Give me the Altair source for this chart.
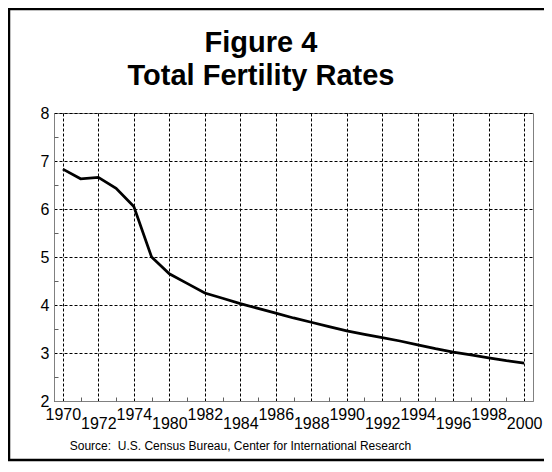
import altair as alt
import pandas as pd

years = [1970, 1971, 1972, 1973, 1974, 1975, 1980, 1981, 1982, 1983, 1984, 1985,
         1986, 1987, 1988, 1989, 1990, 1991, 1992, 1993, 1994, 1995, 1996, 1997,
         1998, 1999, 2000]
tfr = [6.83, 6.63, 6.66, 6.43, 6.05, 5.00, 4.65, 4.45, 4.25, 4.14, 4.03, 3.93,
       3.83, 3.73, 3.64, 3.55, 3.46, 3.39, 3.32, 3.25, 3.17, 3.09, 3.02, 2.96,
       2.90, 2.84, 2.79]
major_years = [1970, 1972, 1974, 1980, 1982, 1984, 1986, 1988, 1990, 1992, 1994,
               1996, 1998, 2000]
minor_years = [1971, 1973, 1975, 1981, 1983, 1985, 1987, 1989, 1991, 1993, 1995,
               1997, 1999]
lower_label_years = [1972, 1980, 1984, 1988, 1992, 1996, 2000]
y_major = [2, 3, 4, 5, 6, 7, 8]
y_minor = [2.5, 3.5, 4.5, 5.5, 6.5, 7.5]
title_lines = ["Figure 4", "Total Fertility Rates"]
source = "Source:\u00a0 U.S. Census Bureau, Center for International Research"

df = pd.DataFrame({"year": years, "tfr": tfr})
W, H = 479, 288
FONT = "Liberation Sans"

xscale = alt.Scale(type="point", padding=0.5)
yscale = alt.Scale(domain=[2, 8], nice=False, zero=False)

test = "indexof([" + ",".join(str(v) for v in lower_label_years) + "], datum.value) >= 0"

base_x = alt.Axis(
    values=major_years, ticks=False, tickSize=0, labelAngle=0, labelFont=FONT,
    labelFontSize=16, labelColor="black",
    labelPadding={"condition": {"test": test, "value": 14.5}, "value": 5},
    labelOverlap=False, domainColor="#808080", grid=True, gridColor="black",
    gridDash=[3, 2], gridWidth=1, gridOpacity=1, title=source, titleFont=FONT,
    titleFontSize=12, titleFontWeight="normal", titleColor="black",
    titleX=186, titleY=48, titleAlign="center", titleBaseline="alphabetic",
)
base_y = alt.Axis(
    values=y_major, ticks=False, tickSize=0, labelFont=FONT, labelFontSize=16,
    labelColor="black", labelPadding=5, domainColor="#808080", grid=True,
    gridColor="black", gridDash=[3, 2], gridWidth=1, gridOpacity=1, title=None,
    format="d",
)
minor_x = alt.Axis(
    orient="top", offset=-H, values=minor_years, labels=False, domain=False,
    grid=False, ticks=True, tickSize=4, tickColor="#606060", title=None,
)
minor_y = alt.Axis(
    orient="right", offset=-W, values=y_minor, labels=False, domain=False,
    grid=False, ticks=True, tickSize=4, tickColor="#606060", title=None,
)

one = pd.DataFrame({"k": [0]})
frame_style = dict(color="black", strokeWidth=2.5)
frame_left = alt.Chart(one).mark_rule(**frame_style).encode(
    x=alt.value(-45), y=alt.value(-104), y2=alt.value(347)
)
frame_top = alt.Chart(one).mark_rule(**frame_style).encode(
    x=alt.value(-46), x2=alt.value(600), y=alt.value(-104)
)
frame_bottom = alt.Chart(one).mark_rule(**frame_style).encode(
    x=alt.value(-46), x2=alt.value(600), y=alt.value(347)
)

hidden = alt.Chart(df).mark_line(strokeOpacity=0).encode(
    x=alt.X("year:O", scale=xscale, axis=base_x),
    y=alt.Y("tfr:Q", scale=yscale, axis=base_y),
)

line = alt.Chart(df).mark_line(color="black", strokeWidth=2.75).encode(
    x=alt.X("year:O", scale=xscale, axis=minor_x),
    y=alt.Y("tfr:Q", scale=yscale, axis=minor_y),
)

chart = alt.layer(frame_left, frame_top, frame_bottom, hidden, line).resolve_axis(
    x="independent", y="independent"
).properties(
    width=W, height=H,
    title=alt.TitleParams(
        text=title_lines, font=FONT, fontSize=29, fontWeight="bold",
        color="black", anchor="middle", dx=-32.5, dy=83, lineHeight=33, offset=0,
    ),
    autosize=alt.AutoSizeParams(type="none"),
    padding={"left": 46, "top": 105, "right": 11, "bottom": 61},
).configure_view(stroke="#808080", strokeWidth=1)

chart.save("out.html", embed_options={"renderer": "svg", "actions": False})
